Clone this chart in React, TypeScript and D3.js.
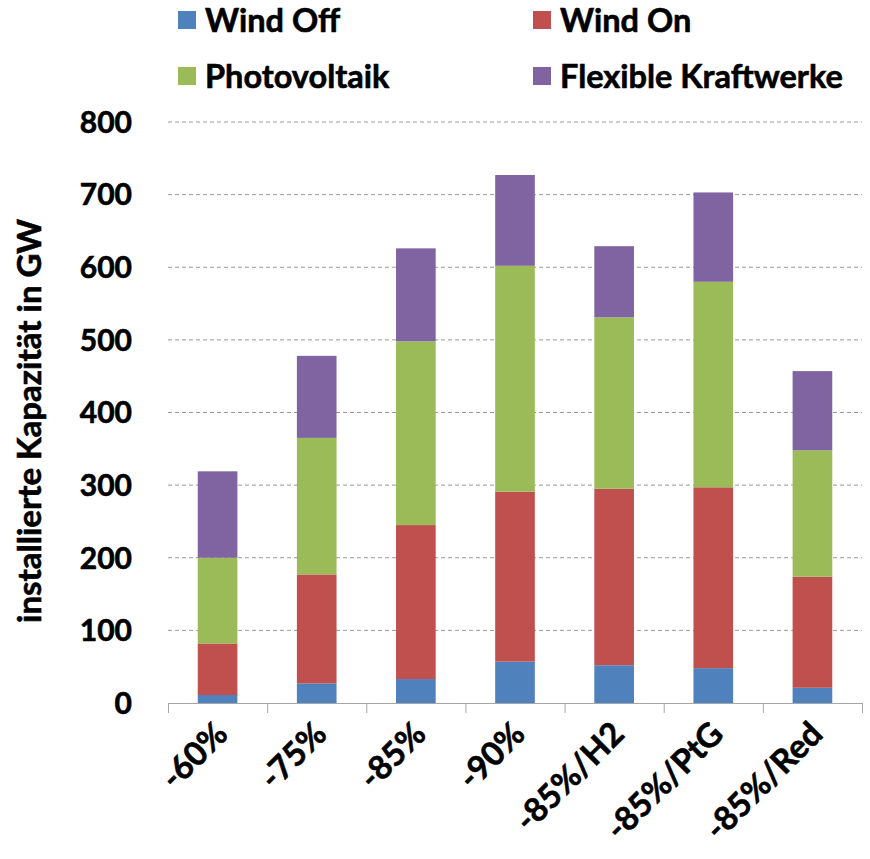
import { useEffect, useRef } from "react"
import * as d3 from "d3"

const categories = ["-60%", "-75%", "-85%", "-90%", "-85%/H2", "-85%/PtG", "-85%/Red"]
const seriesNames = ["Wind Off", "Wind On", "Photovoltaik", "Flexible Kraftwerke"]
const windOff = [11, 27, 33, 57, 52, 48, 21]
const windOn = [71, 150, 212, 234, 243, 249, 153]
const photovoltaik = [118, 188, 253, 311, 236, 283, 174]
const flexible = [119, 113, 128, 125, 98, 123, 109]
const yTicks = [0, 100, 200, 300, 400, 500, 600, 700, 800]
const colors = ["#4F81BD", "#C0504D", "#9BBB59", "#8064A2"]

const FONT = "Lato, 'Open Sans', sans-serif"

export default function App() {
  const svgRef = useRef(null)

  useEffect(() => {
    document.body.style.margin = "0"
    const width = 870
    const height = 859

    const svg = d3.select(svgRef.current).attr("width", width).attr("height", height)
    svg.selectAll("*").remove()

    const x = d3.scaleBand().domain(categories).range([168, 862]).paddingInner(0.6).paddingOuter(0.3)
    const y = d3.scaleLinear().domain([0, 800]).range([703, 122])

    const rows = categories.map((c, i) => ({
      cat: c,
      "Wind Off": windOff[i],
      "Wind On": windOn[i],
      Photovoltaik: photovoltaik[i],
      "Flexible Kraftwerke": flexible[i],
    }))
    const stacked = d3.stack().keys(seriesNames)(rows)

    // slightly heavier text, like the original's bold face
    const boldText = (sel, size) =>
      sel
        .attr("font-family", FONT)
        .attr("font-weight", "bold")
        .attr("font-size", size)
        .attr("fill", "#000")
        .attr("stroke", "#000")
        .attr("stroke-width", 0.6)

    // gridlines
    svg
      .append("g")
      .selectAll("line")
      .data(yTicks.filter((d) => d > 0))
      .enter()
      .append("line")
      .attr("x1", 168)
      .attr("x2", 862)
      .attr("y1", (d) => y(d))
      .attr("y2", (d) => y(d))
      .attr("stroke", "#9a9a9a")
      .attr("stroke-width", 1)
      .attr("stroke-dasharray", "4,3")

    // bars
    svg
      .append("g")
      .selectAll("g")
      .data(stacked)
      .enter()
      .append("g")
      .attr("fill", (d, i) => colors[i])
      .selectAll("rect")
      .data((d) => d)
      .enter()
      .append("rect")
      .attr("x", (d) => x(d.data.cat))
      .attr("width", x.bandwidth())
      .attr("y", (d) => y(d[1]))
      .attr("height", (d) => y(d[0]) - y(d[1]))

    // x axis
    const step = x.step()
    const ax = svg.append("g")
    ax.append("line")
      .attr("x1", 168)
      .attr("x2", 862)
      .attr("y1", y(0) + 0.5)
      .attr("y2", y(0) + 0.5)
      .attr("stroke", "#a6a6a6")
    ax.selectAll("line.tick")
      .data(d3.range(categories.length + 1))
      .enter()
      .append("line")
      .attr("class", "tick")
      .attr("x1", (i) => 168 + i * step + 0.5)
      .attr("x2", (i) => 168 + i * step + 0.5)
      .attr("y1", y(0))
      .attr("y2", y(0) + 10)
      .attr("stroke", "#a6a6a6")

    ax.selectAll("text")
      .data(categories)
      .enter()
      .append("text")
      .attr("transform", (d) => `translate(${x(d) + x.bandwidth() / 2 + 12}, 736) rotate(-45)`)
      .attr("text-anchor", "end")
      .call(boldText, 33)
      .text((d) => d)

    // y axis labels
    svg
      .append("g")
      .selectAll("text")
      .data(yTicks)
      .enter()
      .append("text")
      .attr("x", 132)
      .attr("y", (d) => y(d))
      .attr("dy", "0.36em")
      .attr("text-anchor", "end")
      .call(boldText, 30)
      .text((d) => d)

    svg
      .append("text")
      .attr("transform", `translate(41, 421) rotate(-90)`)
      .attr("text-anchor", "middle")
      .call(boldText, 33)
      .text("installierte Kapazität in GW")

    // legend
    const legendPos = [
      [178, 11],
      [533, 11],
      [178, 67],
      [533, 67],
    ]
    const legend = svg.append("g")
    seriesNames.forEach((name, i) => {
      const [lx, ly] = legendPos[i]
      legend.append("rect").attr("x", lx).attr("y", ly).attr("width", 18).attr("height", 18).attr("fill", colors[i])
      legend
        .append("text")
        .attr("x", lx + 27)
        .attr("y", ly + 21)
        .call(boldText, 32.5)
        .text(name)
    })
  }, [])

  return <svg ref={svgRef} style={{ display: "block" }}></svg>
}
